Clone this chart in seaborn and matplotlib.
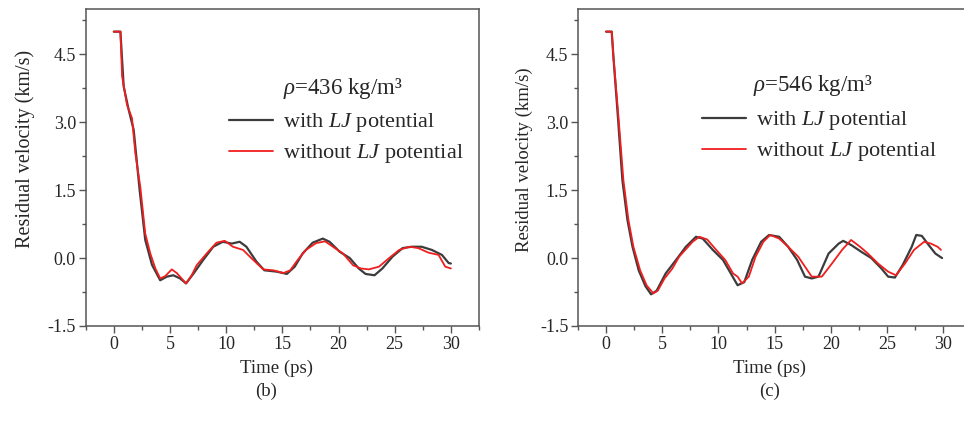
import numpy as np
import pandas as pd
import matplotlib
matplotlib.use("Agg")
import matplotlib.pyplot as plt
import seaborn as sns

# ---- data (b) rho = 436 kg/m3 ----
t_b_with = [0, 0.59, 0.88, 1.3, 1.77, 2.3, 2.8, 3.4, 4.13, 4.72, 5.3, 5.9, 6.43, 7.1, 7.96, 8.85, 9.7, 10.5,
            11.2, 11.8, 12.7, 13.4, 14.5, 15.4, 16.1, 16.8, 17.7, 18.6, 19.2, 20.1, 21.0, 21.8, 22.4, 23.2,
            23.9, 24.8, 25.7, 26.5, 27.4, 28.3, 29.2, 29.8, 30.0]
v_b_with = [5.0, 5.0, 3.79, 3.3, 2.83, 1.5, 0.40, -0.15, -0.49, -0.41, -0.38, -0.45, -0.56, -0.34, -0.04, 0.25,
            0.36, 0.32, 0.36, 0.25, -0.08, -0.27, -0.30, -0.35, -0.19, 0.10, 0.34, 0.43, 0.36, 0.14, 0.0,
            -0.23, -0.35, -0.38, -0.23, 0.03, 0.22, 0.25, 0.25, 0.18, 0.07, -0.11, -0.12]
t_b_without = [0, 0.59, 0.74, 1.18, 1.62, 1.92, 2.36, 2.8, 3.25, 3.7, 4.13, 4.57, 5.16, 5.6, 6.43, 6.93, 7.37,
               8.26, 9.14, 9.88, 10.6, 11.5, 12.4, 13.3, 14.2, 15.1, 15.7, 16.4, 17.1, 18.0, 18.8, 19.5, 20.4,
               21.3, 22.0, 22.7, 23.6, 24.5, 25.4, 26.3, 27.1, 28.0, 28.9, 29.5, 30.0]
v_b_without = [5.0, 5.0, 4.01, 3.38, 3.09, 2.31, 1.57, 0.54, 0.10, -0.23, -0.45, -0.40, -0.25, -0.33, -0.56,
               -0.38, -0.16, 0.10, 0.34, 0.38, 0.25, 0.18, -0.04, -0.25, -0.27, -0.33, -0.27, -0.03, 0.18,
               0.33, 0.37, 0.25, 0.10, -0.16, -0.23, -0.25, -0.19, 0.0, 0.18, 0.25, 0.22, 0.12, 0.07, -0.19,
               -0.23]

# ---- data (c) rho = 546 kg/m3 ----
t_c_with = [0, 0.5, 0.65, 1.05, 1.45, 1.9, 2.35, 2.9, 3.5, 4.0, 4.5, 5.3, 6.2, 7.1, 8.0, 8.6, 9.5, 10.4, 11.1,
            11.7, 12.3, 13.0, 13.8, 14.5, 15.4, 16.2, 17.0, 17.7, 18.3, 18.9, 19.8, 20.7, 21.1, 21.8, 22.7,
            23.6, 24.5, 25.1, 25.7, 26.4, 27.2, 27.6, 28.1, 28.7, 29.3, 29.9]
v_c_with = [5.0, 5.0, 4.45, 3.12, 1.72, 0.84, 0.25, -0.27, -0.62, -0.80, -0.72, -0.34, -0.05, 0.25, 0.47, 0.43,
            0.18, -0.04, -0.34, -0.60, -0.53, -0.04, 0.36, 0.51, 0.47, 0.25, -0.04, -0.41, -0.45, -0.41, 0.10,
            0.32, 0.38, 0.29, 0.14, 0.0, -0.23, -0.41, -0.43, -0.15, 0.25, 0.51, 0.49, 0.29, 0.10, 0.0]
t_c_without = [0, 0.5, 0.65, 1.1, 1.54, 1.99, 2.43, 3.03, 3.6, 4.2, 4.6, 5.2, 5.9, 6.5, 7.3, 7.7, 8.3, 9.0,
               9.8, 10.6, 11.3, 11.7, 12.1, 12.7, 13.3, 14.0, 14.6, 15.4, 16.2, 17.1, 17.7, 18.3, 19.2, 20.1,
               21.0, 21.8, 22.6, 23.3, 24.2, 25.1, 25.8, 26.6, 27.4, 28.3, 28.9, 29.5, 29.8]
v_c_without = [5.0, 5.0, 4.45, 3.12, 1.72, 0.84, 0.25, -0.27, -0.60, -0.78, -0.72, -0.45, -0.23, 0.03, 0.25,
               0.36, 0.47, 0.41, 0.18, -0.04, -0.34, -0.41, -0.56, -0.41, 0.03, 0.36, 0.51, 0.43, 0.25, 0.03,
               -0.19, -0.41, -0.41, -0.12, 0.18, 0.40, 0.25, 0.10, -0.12, -0.30, -0.38, -0.12, 0.18, 0.36,
               0.32, 0.25, 0.18]

x_ticks = [0, 5, 10, 15, 20, 25, 30]
y_ticks = [-1.5, 0.0, 1.5, 3.0, 4.5]
panel_titles = ["(b)", "(c)"]
rho_labels = [r"$\rho$=436 kg/m³", r"$\rho$=546 kg/m³"]
series_labels = ["with $LJ$ potential", "without $LJ$ potential"]

sns.set_style("ticks")
plt.rcParams["font.family"] = ["Liberation Serif", "DejaVu Serif"]
plt.rcParams["mathtext.fontset"] = "custom"
plt.rcParams["mathtext.rm"] = "Liberation Serif"
plt.rcParams["mathtext.it"] = "Liberation Serif:italic"
plt.rcParams["axes.unicode_minus"] = False

GRAY = "#3c3c3c"
RED = "#f01e1e"
SPINE = "#555555"

fig = plt.figure(figsize=(9.64, 4.22), dpi=100)
W, H = 964, 422
ax_b = fig.add_axes([85.7 / W, (422 - 326) / H, 393.3 / W, 317 / H])
ax_c = fig.add_axes([578 / W, (422 - 326) / H, 393.3 / W, 317 / H])

datasets = [
    (ax_b, t_b_with, v_b_with, t_b_without, v_b_without),
    (ax_c, t_c_with, v_c_with, t_c_without, v_c_without),
]
leg_pos = [(0.364, 0.592), (0.315, 0.598)]
rho_pos = [(0.502, 0.748), (0.445, 0.760)]
ylab_pos = [(-0.155, 0.558), (-0.137, 0.525)]
ylab_size = [14.5, 13.5]
panel_x = [266 / W, 770 / W]

for i, (ax, tw, vw, to, vo) in enumerate(datasets):
    df_w = pd.DataFrame({"t": tw, "v": vw})
    df_o = pd.DataFrame({"t": to, "v": vo})
    sns.lineplot(data=df_w, x="t", y="v", ax=ax, color=GRAY, lw=1.6, sort=False,
                 label=series_labels[0])
    sns.lineplot(data=df_o, x="t", y="v", ax=ax, color=RED, lw=1.3, sort=False,
                 label=series_labels[1])
    ax.set_xlim(-2.45, 32.45)
    ax.set_ylim(-1.5, 5.5)
    ax.set_xticks(x_ticks)
    ax.set_yticks(y_ticks)
    ax.set_yticklabels([f"{v:.1f}" for v in y_ticks])
    ax.set_xticks(np.arange(-2.5, 32.6, 2.5), minor=True)
    ax.set_yticks(np.arange(-1.5, 5.6, 0.75), minor=True)
    ax.tick_params(axis="both", which="major", direction="out", length=5, width=1.0,
                   color=SPINE, labelsize=13, pad=2)
    ax.tick_params(axis="both", which="minor", direction="out", length=3, width=1.0, color=SPINE)
    for s in ax.spines.values():
        s.set_visible(True)
        s.set_color(SPINE)
        s.set_linewidth(1.1)
    ax.set_xlabel("Time (ps)", fontsize=13.5)
    ax.set_ylabel("Residual velocity (km/s)", fontsize=ylab_size[i])
    ax.xaxis.label.set_va("center")
    ax.xaxis.set_label_coords(0.486, (326 - 368) / 317)
    ax.yaxis.set_label_coords(*ylab_pos[i])
    ax.yaxis.label.set_va("center")
    leg = ax.legend(loc="center left", bbox_to_anchor=leg_pos[i], frameon=False, fontsize=16,
                    handlelength=2.0, handletextpad=0.45, borderpad=0, borderaxespad=0,
                    labelspacing=0.36)
    ax.text(rho_pos[i][0], rho_pos[i][1], rho_labels[i], transform=ax.transAxes, fontsize=16.5,
            va="center", ha="left")
    fig.text(panel_x[i], (422 - 391) / H, panel_titles[i], fontsize=13.5, ha="center", va="center")

fig.savefig("out.png", dpi=100)
